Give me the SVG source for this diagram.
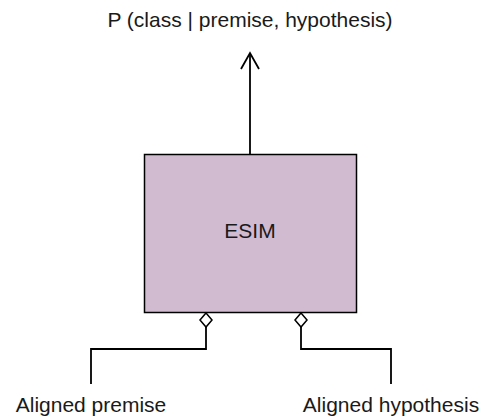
<svg xmlns="http://www.w3.org/2000/svg" width="486" height="419" viewBox="0 0 486 419">
<style>
text{font-family:"Liberation Sans",Arial,sans-serif;font-size:21px;fill:#1a1a1a;text-anchor:middle}
.ln{fill:none;stroke:#000;stroke-width:1.8}
.dm{fill:#fff;stroke:#000;stroke-width:1.5}
</style>
<rect width="486" height="419" fill="#fff"/>
<g id="title"><text x="250" y="27">P (class | premise, hypothesis)</text></g>
<g id="esim">
<rect x="144.5" y="154.5" width="212" height="158" fill="#d1bbd1" stroke="#000" stroke-width="1.5"/>
<text x="250" y="238">ESIM</text>
</g>
<g id="premise"><text x="91" y="412">Aligned premise</text></g>
<g id="hypothesis"><text x="391" y="412">Aligned hypothesis</text></g>
<g id="connectors">
<path class="ln" d="M250 154V54"/>
<path class="ln" d="M241 69L250 53L259 69"/>
<path class="ln" d="M206 327V349H91V384"/>
<path class="dm" d="M206 313L212 320L206 327L200 320Z"/>
<path class="ln" d="M301 327V349H391V384"/>
<path class="dm" d="M301 313L307 320L301 327L295 320Z"/>
</g>
</svg>
